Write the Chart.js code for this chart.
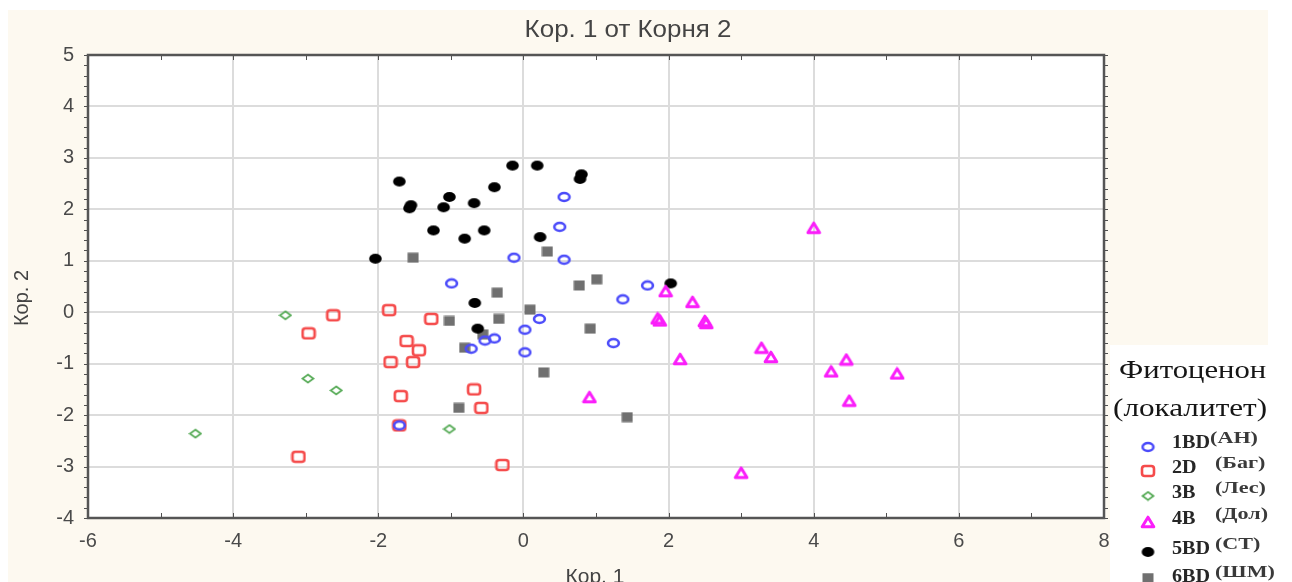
<!DOCTYPE html>
<html>
<head>
<meta charset="utf-8">
<script src="https://cdn.jsdelivr.net/npm/chart.js@4/dist/chart.umd.min.js"></script>
<style>
  html, body { margin: 0; padding: 0; background: #ffffff; }
  #wrap { width: 1292px; height: 582px; }
</style>
</head>
<body>
<div id="wrap"><canvas id="c" width="1292" height="582"></canvas></div>
<script>
// Root 1 vs Root 2 scores, per phytocenosis (locality)
const pointsAN = [[0.56,2.24],[0.50,1.66],[0.56,1.02],[-0.13,1.06],[-0.99,0.56],[1.71,0.52],[1.37,0.25],
  [0.22,-0.13],[0.02,-0.34],[-0.40,-0.51],[-0.53,-0.55],[-0.72,-0.71],[0.02,-0.78],[1.24,-0.60],[-1.71,-2.20]];
const pointsBag = [[-1.85,0.04],[-2.62,-0.06],[-2.96,-0.41],[-1.27,-0.13],[-1.61,-0.56],[-1.44,-0.74],
  [-1.83,-0.97],[-1.52,-0.97],[-1.69,-1.63],[-0.68,-1.50],[-0.58,-1.86],[-1.71,-2.20],[-3.10,-2.81],[-0.29,-2.97]];
const pointsLes = [[-3.28,-0.06],[-2.97,-1.29],[-2.58,-1.52],[-4.52,-2.36],[-1.02,-2.27]];
const pointsDol = [[4.00,1.64],[1.96,0.41],[2.33,0.20],[1.88,-0.16],[1.85,-0.12],[2.52,-0.21],[2.50,-0.17],
  [3.28,-0.69],[3.41,-0.87],[2.16,-0.91],[4.45,-0.92],[4.24,-1.15],[5.15,-1.19],[4.49,-1.72],[0.91,-1.65],[3.00,-3.12]];
const pointsST = [[-1.71,2.54],[-1.55,2.08],[-1.57,2.02],[-2.04,1.04],[-1.02,2.24],[-1.10,2.04],[-1.24,1.59],
  [-0.81,1.43],[-0.68,2.12],[-0.54,1.59],[-0.40,2.43],[-0.15,2.85],[0.19,2.85],[0.80,2.68],[0.78,2.59],
  [0.23,1.46],[2.03,0.56],[-0.67,0.18],[-0.63,-0.32]];
const pointsShM = [[-1.52,1.06],[0.33,1.18],[-0.36,0.38],[0.77,0.52],[1.01,0.64],[0.09,0.05],[-1.02,-0.17],
  [-0.34,-0.13],[-0.56,-0.43],[0.92,-0.32],[-0.81,-0.69],[0.28,-1.17],[-0.89,-1.86],[1.43,-2.04]];

const groupCodes = ['1BD', '2D', '3B', '4B', '5BD', '6BD'];
const groupPlaces = ['(АН)', '(Баг)', '(Лес)', '(Дол)', '(СТ)', '(ШМ)'];
const xTicks = [-6, -4, -2, 0, 2, 4, 6, 8];
const yTicks = [-4, -3, -2, -1, 0, 1, 2, 3, 4, 5];

// marker glyphs drawn once onto small canvases
function glyph(w, h, paint) {
  const cv = document.createElement('canvas');
  cv.width = w; cv.height = h;
  paint(cv.getContext('2d'), w, h);
  return cv;
}
const mkCircle = glyph(15, 12, (g, w, h) => {
  g.strokeStyle = 'rgb(75,75,250)'; g.lineWidth = 2.6;
  g.beginPath(); g.ellipse(w / 2, h / 2, 5.4, 4.0, 0, 0, Math.PI * 2); g.stroke();
});
const mkSquare = glyph(16, 14, (g) => {
  g.strokeStyle = 'rgb(245,75,75)'; g.lineWidth = 2.6;
  g.beginPath(); g.roundRect(2, 2, 12, 10, 2.8); g.stroke();
});
const mkDiamond = glyph(14, 11, (g, w, h) => {
  g.strokeStyle = 'rgb(85,170,85)'; g.lineWidth = 1.8;
  g.beginPath(); g.moveTo(w / 2, 1.5); g.lineTo(w - 1.5, h / 2); g.lineTo(w / 2, h - 1.5); g.lineTo(1.5, h / 2);
  g.closePath(); g.stroke();
});
const mkTriangle = glyph(16, 14, (g, w, h) => {
  g.strokeStyle = 'rgb(250,30,250)'; g.lineWidth = 3; g.lineJoin = 'round';
  g.beginPath(); g.moveTo(w / 2, 2.2); g.lineTo(w - 2.2, h - 2.2); g.lineTo(2.2, h - 2.2); g.closePath(); g.stroke();
});
const mkDot = glyph(15, 12, (g, w, h) => {
  g.fillStyle = '#000000';
  g.beginPath(); g.ellipse(w / 2, h / 2, 6.3, 5, 0, 0, Math.PI * 2); g.fill();
});
const mkBlock = glyph(12, 11, (g) => {
  g.fillStyle = 'rgb(112,112,112)';
  g.fillRect(0.5, 0.5, 11, 10);
});

const groupPoints = [pointsAN, pointsBag, pointsLes, pointsDol, pointsST, pointsShM];
const groupGlyphs = [mkCircle, mkSquare, mkDiamond, mkTriangle, mkDot, mkBlock];

const datasets = groupPoints.map((pts, i) => ({
  label: groupCodes[i] + ' ' + groupPlaces[i],
  data: pts.map(p => ({ x: p[0], y: p[1] })),
  pointStyle: groupGlyphs[i],
  pointRadius: 6,
  pointHoverRadius: 6
}));

const FONT = "'Liberation Sans', Arial, sans-serif";
const SERIF = "'Liberation Serif', 'Times New Roman', serif";

// text drawn with a horizontal stretch factor
function wideText(g, text, x, y, font, sx) {
  g.save();
  g.font = font;
  g.translate(x, y);
  g.scale(sx, 1);
  g.fillText(text, 0, 0);
  const w = g.measureText(text).width * sx;
  g.restore();
  return w;
}

const decor = {
  id: 'decor',
  beforeDraw(chart) {
    const g = chart.ctx, a = chart.chartArea;
    g.save();
    g.fillStyle = '#ffffff'; g.fillRect(0, 0, chart.width, chart.height);
    g.fillStyle = 'rgb(253,249,240)'; g.fillRect(8, 10, 1260, 572);
    g.fillStyle = '#ffffff'; g.fillRect(a.left, a.top, a.right - a.left, a.bottom - a.top);
    g.fillStyle = '#ffffff'; g.fillRect(1110, 345, 182, 237);
    g.restore();
  },
  beforeDatasetsDraw(chart) {
    const g = chart.ctx, a = chart.chartArea;
    const xs = chart.scales.x, ys = chart.scales.y;
    g.save();
    g.strokeStyle = '#505050';
    g.lineWidth = 1;
    // minor tick marks along the frame
    for (let v = -4; v <= 5.001; v += 0.2) {
      const py = Math.round(ys.getPixelForValue(v)) + 0.5;
      g.beginPath(); g.moveTo(a.left - 4, py); g.lineTo(a.left + 1, py); g.stroke();
      g.beginPath(); g.moveTo(a.right - 1, py); g.lineTo(a.right + 4, py); g.stroke();
    }
    for (let v = -6; v <= 8; v += 1) {
      const px = Math.round(xs.getPixelForValue(v)) + 0.5;
      g.beginPath(); g.moveTo(px, a.bottom - 5); g.lineTo(px, a.bottom); g.stroke();
      g.beginPath(); g.moveTo(px, a.top); g.lineTo(px, a.top + 5); g.stroke();
    }
    // frame
    g.lineWidth = 2.5;
    g.strokeStyle = '#555555';
    g.strokeRect(a.left, a.top, a.right - a.left, a.bottom - a.top);
    g.restore();
  },
  afterDraw(chart) {
    const g = chart.ctx;
    g.save();
    g.fillStyle = '#444444';
    g.textAlign = 'center'; g.textBaseline = 'middle';
    g.save();
    g.translate(628, 30); g.scale(1.08, 1);
    g.font = '24px ' + FONT;
    g.fillText('Кор. 1 от Корня 2', 0, 0);
    g.restore();
    g.font = '21px ' + FONT;
    g.textBaseline = 'top';
    g.fillText('Кор. 1', 595, 567);
    g.translate(22, 298); g.rotate(-Math.PI / 2);
    g.textBaseline = 'middle';
    g.font = '20px ' + FONT;
    g.fillText('Кор. 2', 0, 0);
    g.restore();

    // legend
    g.save();
    g.fillStyle = '#161616';
    g.textAlign = 'left'; g.textBaseline = 'middle';
    wideText(g, 'Фитоценон', 1119, 371, '26px ' + SERIF, 1.18);
    wideText(g, '(локалитет)', 1113, 409, '26px ' + SERIF, 1.2);
    const rowY = [441, 466, 491, 517, 547, 575];
    const markY = [447, 471, 496, 522, 552, 578];
    rowY.forEach((y, i) => {
      const im = groupGlyphs[i];
      g.drawImage(im, 1148 - im.width / 2, markY[i] - im.height / 2);
      g.fillStyle = '#262626';
      const w = wideText(g, groupCodes[i], 1172, y + 2, 'bold 18px ' + SERIF, 1.12);
      g.fillStyle = '#3a3a3a';
      wideText(g, groupPlaces[i], i === 0 ? 1172 + w : 1215, y - 2, 'bold 17px ' + SERIF, 1.3);
    });
    g.restore();
  }
};

new Chart(document.getElementById('c'), {
  type: 'scatter',
  data: { datasets },
  plugins: [decor],
  options: {
    responsive: false,
    animation: false,
    devicePixelRatio: 1,
    layout: { padding: { top: 55, right: 188, left: 0, bottom: 0 } },
    plugins: { legend: { display: false }, title: { display: false }, tooltip: { enabled: false } },
    scales: {
      x: {
        type: 'linear', min: -6, max: 8,
        afterBuildTicks: s => { s.ticks = xTicks.map(v => ({ value: v })); },
        afterFit: s => { s.height = 64; },
        grid: { color: '#dcdcdc', lineWidth: 2, drawTicks: false },
        border: { display: false },
        ticks: { color: '#4a4a4a', font: { family: FONT, size: 20 }, padding: 11 }
      },
      y: {
        type: 'linear', min: -4, max: 5,
        afterBuildTicks: s => { s.ticks = yTicks.map(v => ({ value: v })); },
        afterFit: s => { s.width = 88; },
        grid: { color: '#dcdcdc', lineWidth: 2, drawTicks: false },
        border: { display: false },
        ticks: { color: '#4a4a4a', font: { family: FONT, size: 20 }, padding: 14 }
      }
    }
  }
});
</script>
</body>
</html>
